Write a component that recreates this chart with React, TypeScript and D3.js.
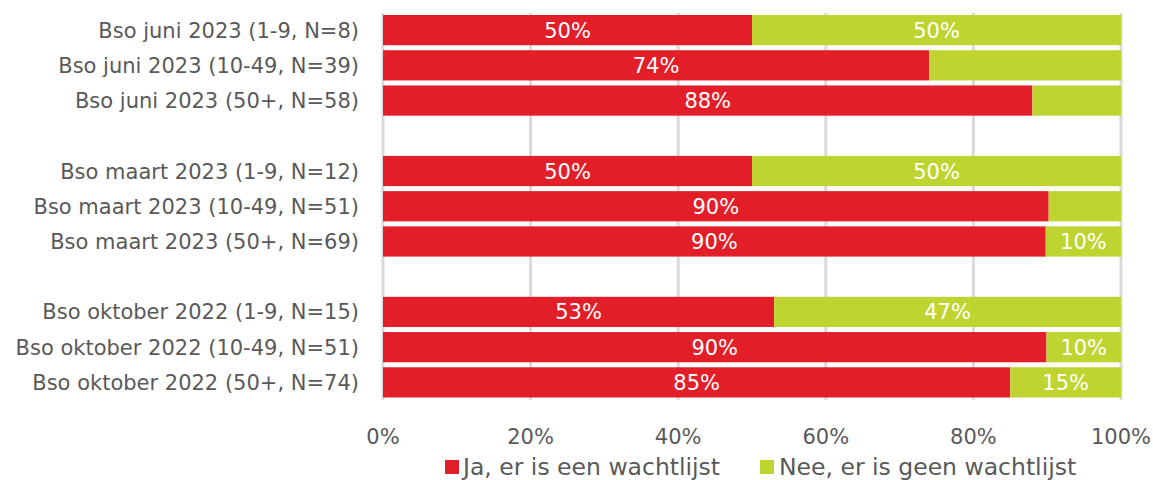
import React from "react";
import * as d3 from "d3";

const categories = [
  "Bso juni 2023 (1-9, N=8)",
  "Bso juni 2023 (10-49, N=39)",
  "Bso juni 2023 (50+, N=58)",
  "",
  "Bso maart 2023 (1-9, N=12)",
  "Bso maart 2023 (10-49, N=51)",
  "Bso maart 2023 (50+, N=69)",
  "",
  "Bso oktober 2022 (1-9, N=15)",
  "Bso oktober 2022 (10-49, N=51)",
  "Bso oktober 2022 (50+, N=74)",
];
const jaValues = [50, 74, 88, null, 50, 90.2, 89.8, null, 53, 89.9, 85];
const neeValues = [50, 26, 12, null, 50, 9.8, 10.2, null, 47, 10.1, 15];
const jaLabels = ["50%", "74%", "88%", "", "50%", "90%", "90%", "", "53%", "90%", "85%"];
const neeLabels = ["50%", "", "", "", "50%", "", "10%", "", "47%", "10%", "15%"];
const ticks = [0, 20, 40, 60, 80, 100];
const seriesNames = ["Ja, er is een wachtlijst", "Nee, er is geen wachtlijst"];
const colors = ["#E21E29", "#BFD431"];

const W = 1153;
const H = 480;
const FONT = "Tahoma, 'DejaVu Sans', sans-serif";

export default function App() {
  const x = d3.scaleLinear().domain([0, 100]).range([383, 1121]);
  const y = d3
    .scaleBand<number>()
    .domain(d3.range(categories.length))
    .range([12.5, 400])
    .paddingInner(5 / 35.2)
    .paddingOuter(2.5 / 35.2);
  const bh = y.bandwidth();
  return (
    <svg width={W} height={H} style={{ position: "absolute", left: 0, top: 0 }} fontFamily={FONT}>
      <rect width={W} height={H} fill="#fff" />
      {ticks.map((t) => (
        <line key={t} x1={x(t)} x2={x(t)} y1={13} y2={400} stroke="#D9D9D9" strokeWidth={3} />
      ))}
      {categories.map((c, i) => {
        const ja = jaValues[i];
        const nee = neeValues[i];
        if (ja == null || nee == null) return null;
        const y0 = y(i)!;
        const cy = y0 + bh / 2;
        return (
          <g key={i}>
            <rect x={x(0)} y={y0} width={x(ja) - x(0)} height={bh} fill={colors[0]} />
            <rect x={x(ja)} y={y0} width={x(ja + nee) - x(ja)} height={bh} fill={colors[1]} />
            <text x={(x(0) + x(ja)) / 2} y={cy} dy="0.36em" textAnchor="middle" fill="#fff" fontSize={21}>
              {jaLabels[i]}
            </text>
            {neeLabels[i] && (
              <text x={(x(ja) + x(ja + nee)) / 2} y={cy} dy="0.36em" textAnchor="middle" fill="#fff" fontSize={21}>
                {neeLabels[i]}
              </text>
            )}
            <text x={359} y={cy} dy="0.36em" textAnchor="end" fill="#595959" fontSize={21}>
              {c}
            </text>
          </g>
        );
      })}
      {ticks.map((t) => (
        <text key={t} x={x(t)} y={436} dy="0.36em" textAnchor="middle" fill="#595959" fontSize={21}>
          {t + "%"}
        </text>
      ))}
      <g>
        <rect x={445} y={460} width={14} height={14} fill={colors[0]} />
        <text x={463} y={467} dy="0.36em" fill="#595959" fontSize={23.5}>{seriesNames[0]}</text>
        <rect x={760} y={460} width={14} height={14} fill={colors[1]} />
        <text x={779} y={467} dy="0.36em" fill="#595959" fontSize={23.5}>{seriesNames[1]}</text>
      </g>
    </svg>
  );
}
